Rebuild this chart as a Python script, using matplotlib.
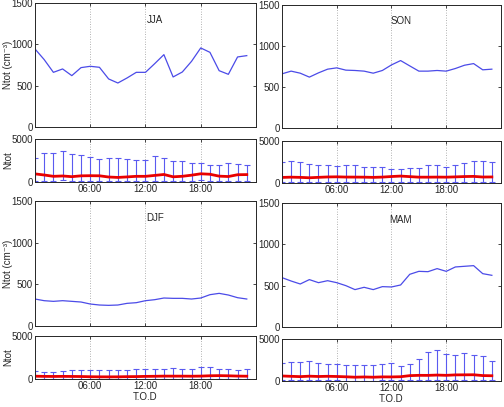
import matplotlib
matplotlib.use('Agg')
import matplotlib.pyplot as plt
import numpy as np

plt.rcParams['font.family'] = ['Liberation Sans', 'DejaVu Sans']
plt.rcParams['font.size'] = 7

hours = np.arange(24)

# seasonal mean diurnal cycle of Ntot (cm^-3)
jja_mean = [944, 815, 661, 702, 621, 718, 734, 722, 581, 532, 593, 661,
            661, 766, 875, 605, 665, 794, 956, 903, 681, 637, 847, 863]
son_mean = [661, 694, 669, 621, 673, 718, 734, 706, 702, 694, 669, 702,
            770, 823, 758, 694, 694, 702, 694, 726, 766, 786, 710, 718]
djf_mean = [324, 304, 296, 304, 296, 288, 264, 252, 248, 252, 272, 280,
            304, 316, 336, 332, 332, 324, 336, 376, 392, 372, 340, 324]
mam_mean = [597, 556, 520, 573, 536, 560, 536, 500, 452, 480, 452, 488,
            484, 508, 637, 673, 669, 706, 673, 726, 734, 742, 645, 625]

# upper end of the error bars
jja_high = [2750, 3410, 3410, 3610, 3220, 3100, 2910, 2680, 2750, 2750, 2640, 2600,
            2600, 2990, 2750, 2480, 2440, 2250, 2210, 1940, 2020, 2170, 2100, 2020]
son_high = [2460, 2660, 2500, 2260, 2180, 2100, 2060, 2100, 2100, 1930, 1930, 1850,
            1690, 1690, 1730, 1730, 2180, 2100, 1930, 2100, 2380, 2620, 2580, 2540]
djf_high = [930, 850, 850, 970, 1090, 1050, 1050, 1090, 1050, 1090, 1090, 1130,
            1200, 1160, 1160, 1240, 1160, 1160, 1400, 1440, 1160, 1130, 1090, 1160]
mam_high = [2100, 2300, 2260, 2420, 2140, 2060, 2060, 1950, 1870, 1870, 1870, 2060,
            2140, 1830, 1990, 2660, 3410, 3690, 3220, 3140, 3330, 3060, 3020, 2340]

# lower end of the error bars
jja_low = [60, 100, 150, 250, 100, 150, 120, 100, 80, 90, 100, 120,
           60, 120, 150, 100, 120, 150, 200, 150, 150, 120, 150, 120]
son_low = [60, 80, 70, 60, 70, 80, 80, 80, 70, 70, 70, 80,
           90, 100, 90, 80, 80, 80, 80, 90, 90, 90, 80, 80]
djf_low = [40, 40, 40, 40, 40, 40, 30, 30, 30, 30, 30, 30,
           40, 40, 40, 40, 40, 40, 40, 50, 50, 50, 40, 40]
mam_low = [70, 60, 60, 70, 60, 60, 60, 50, 50, 50, 50, 60,
           60, 60, 80, 90, 90, 100, 90, 100, 100, 100, 80, 80]

seasons = ['JJA', 'SON', 'DJF', 'MAM']
means = [jja_mean, son_mean, djf_mean, mam_mean]
highs = [jja_high, son_high, djf_high, mam_high]
lows = [jja_low, son_low, djf_low, mam_low]

xticks = [6, 12, 18]
xticklabels = ['06:00', '12:00', '18:00']

# [left, bottom, width, height] for main and small axes
main_pos = [[0.0694, 0.688, 0.4385, 0.3047],
            [0.5595, 0.6855, 0.4345, 0.302],
            [0.0694, 0.199, 0.4385, 0.307],
            [0.5595, 0.1966, 0.4345, 0.3047]]
small_pos = [[0.0694, 0.5528, 0.4385, 0.1057],
             [0.5595, 0.5504, 0.4345, 0.1032],
             [0.0694, 0.0688, 0.4385, 0.1057],
             [0.5595, 0.0639, 0.4345, 0.1032]]

txt = '#262626'
fig = plt.figure(figsize=(5.04, 4.07), dpi=100)

def style(ax):
    ax.set_xlim(0, 24)
    ax.set_xticks(xticks)
    ax.tick_params(direction='in', length=2.5, width=0.6, colors=txt,
                   top=True, right=True, pad=1.5)
    for s in ax.spines.values():
        s.set_linewidth(0.7)
        s.set_color(txt)
    for xv in xticks:
        ax.axvline(xv, color='#999999', lw=0.6, ls=(0, (1, 2)), zorder=0)

for i in range(4):
    m = np.array(means[i])
    hi = np.array(highs[i])
    lo = np.array(lows[i])

    ax = fig.add_axes(main_pos[i])
    ax.plot(hours, m, color='#4b4be8', lw=0.9)
    style(ax)
    ax.set_ylim(0, 1500)
    ax.set_yticks([0, 500, 1000, 1500])
    ax.set_xticklabels([])
    ax.text(13, 1300, seasons[i], ha='center', va='center', color=txt)
    if i % 2 == 0:
        ax.set_ylabel('Ntot (cm\u207b\u00b3)', color=txt)
        ax.yaxis.set_label_coords(-0.1, 0.5)

    ax2 = fig.add_axes(small_pos[i])
    ax2.errorbar(hours, m, yerr=[m - lo, hi - m], fmt='none', ecolor='#5a5af0',
                 elinewidth=0.8, capsize=2, capthick=0.8)
    ax2.plot(hours, m, color='#e80000', lw=2)
    style(ax2)
    ax2.set_ylim(0, 5000)
    ax2.set_yticks([0, 5000])
    ax2.set_xticklabels(xticklabels)
    if i % 2 == 0:
        ax2.set_ylabel('Ntot', color=txt)
        ax2.yaxis.set_label_coords(-0.1, 0.5)
    if i >= 2:
        ax2.set_xlabel('T.O.D', color=txt, labelpad=1)

fig.savefig('out.png', dpi=100)
